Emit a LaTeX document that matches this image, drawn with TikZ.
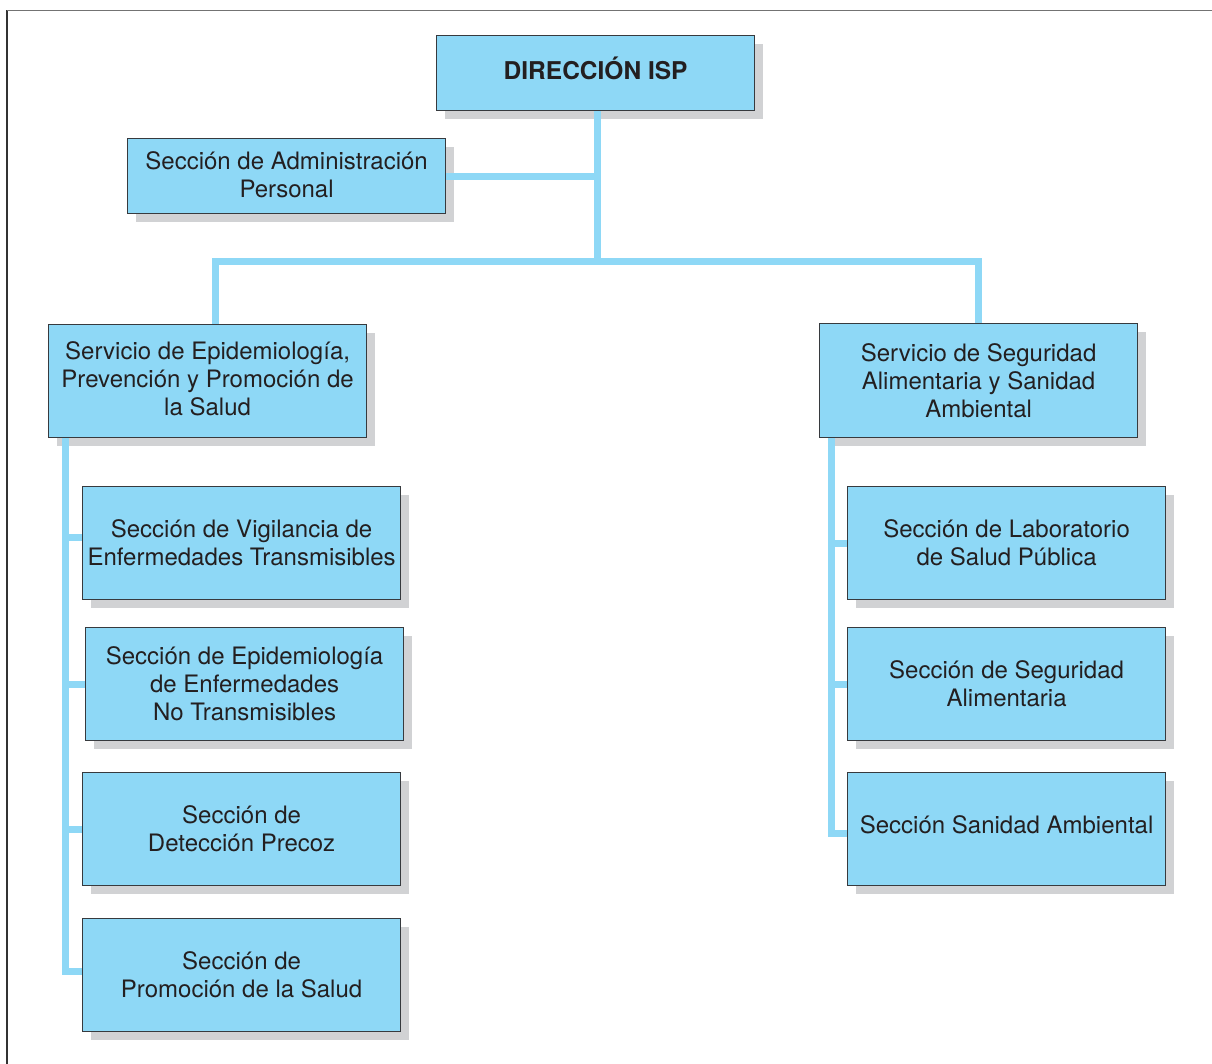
\documentclass[tikz,border=0pt]{standalone}
\usepackage{fontspec}
\setmainfont{TeX Gyre Heros}
\usetikzlibrary{shadows}
\definecolor{boxblue}{RGB}{142,216,246}
\definecolor{linkblue}{RGB}{142,216,246}
\definecolor{shadowgray}{RGB}{209,210,212}
\definecolor{edgegray}{RGB}{55,58,62}
\definecolor{inkdark}{RGB}{35,31,32}
\tikzset{
  orgbox/.style={draw=edgegray, line width=1.2pt, fill=boxblue, anchor=north west,
    inner sep=0pt, align=center, font=\fontsize{24}{28}\selectfont, text=inkdark,
    drop shadow={shadow xshift=8pt, shadow yshift=-8pt, fill=shadowgray, opacity=1}},
  conn/.style={draw=linkblue, line width=7pt},
  frame/.style={line width=1.5pt}
}
\begin{document}
\begin{tikzpicture}[x=1pt,y=-1pt]
\useasboundingbox (0,0) rectangle (1212,1064);
% frame
\draw[frame, black!80] (7,1064) -- (7,10.5);
\draw[frame, black!55] (7,10.5) -- (1212,10.5);
% boxes
\node[orgbox, minimum width=318pt, minimum height=75pt, text depth=9pt, font=\bfseries\fontsize{24.5}{30}\selectfont] (dir) at (436,35) {DIRECCIÓN ISP};
\node[orgbox, minimum width=318pt, minimum height=75pt, text depth=4pt] (adm) at (127,138) {Sección de Administración\\Personal};
\node[orgbox, minimum width=318pt, minimum height=113pt, text depth=6pt] (eps) at (48,324) {Servicio de Epidemiología,\\Prevención y Promoción de\\la Salud};
\node[orgbox, minimum width=318pt, minimum height=114pt] (ssa) at (819,323) {Servicio de Seguridad\\Alimentaria y Sanidad\\Ambiental};
\node[orgbox, minimum width=318pt, minimum height=113pt] (s1) at (82,486) {Sección de Vigilancia de\\Enfermedades Transmisibles};
\node[orgbox, minimum width=318pt, minimum height=113pt] (s2) at (85,627) {Sección de Epidemiología\\de Enfermedades\\No Transmisibles};
\node[orgbox, minimum width=318pt, minimum height=113pt] (s3) at (82,772) {Sección de\\Detección Precoz};
\node[orgbox, minimum width=318pt, minimum height=113pt] (s4) at (82,918) {Sección de\\Promoción de la Salud};
\node[orgbox, minimum width=318pt, minimum height=113pt] (r1) at (847,486) {Sección de Laboratorio\\de Salud Pública};
\node[orgbox, minimum width=318pt, minimum height=113pt] (r2) at (847,627) {Sección de Seguridad\\Alimentaria};
\node[orgbox, minimum width=318pt, minimum height=113pt, text depth=9pt] (r3) at (847,772) {Sección Sanidad Ambiental};
% connectors
\coordinate (hub) at (597,262);
\coordinate (spL) at (65,437);
\coordinate (spR) at (831,437);
\draw[conn] (dir.south -| hub) -- (hub);
\draw[conn] (adm.east) -- (adm.east -| hub);
\draw[conn] ([xshift=8pt]eps.north) |- (hub) -| (ssa.north);
\draw[conn] (spL |- eps.south) |- ([yshift=4pt]s4.west);
\draw[conn] (spL |- s1.west) ++(0,-6) -- ([yshift=6pt]s1.west);
\draw[conn] (spL |- s2.west) -- (s2.west);
\draw[conn] (spL |- s3.west) -- (s3.west);
\draw[conn] (spR |- ssa.south) |- ([yshift=-4.5pt]r3.west);
\draw[conn] (spR |- r1.west) -- (r1.west);
\draw[conn] (spR |- r2.west) -- (r2.west);
\end{tikzpicture}
\end{document}
